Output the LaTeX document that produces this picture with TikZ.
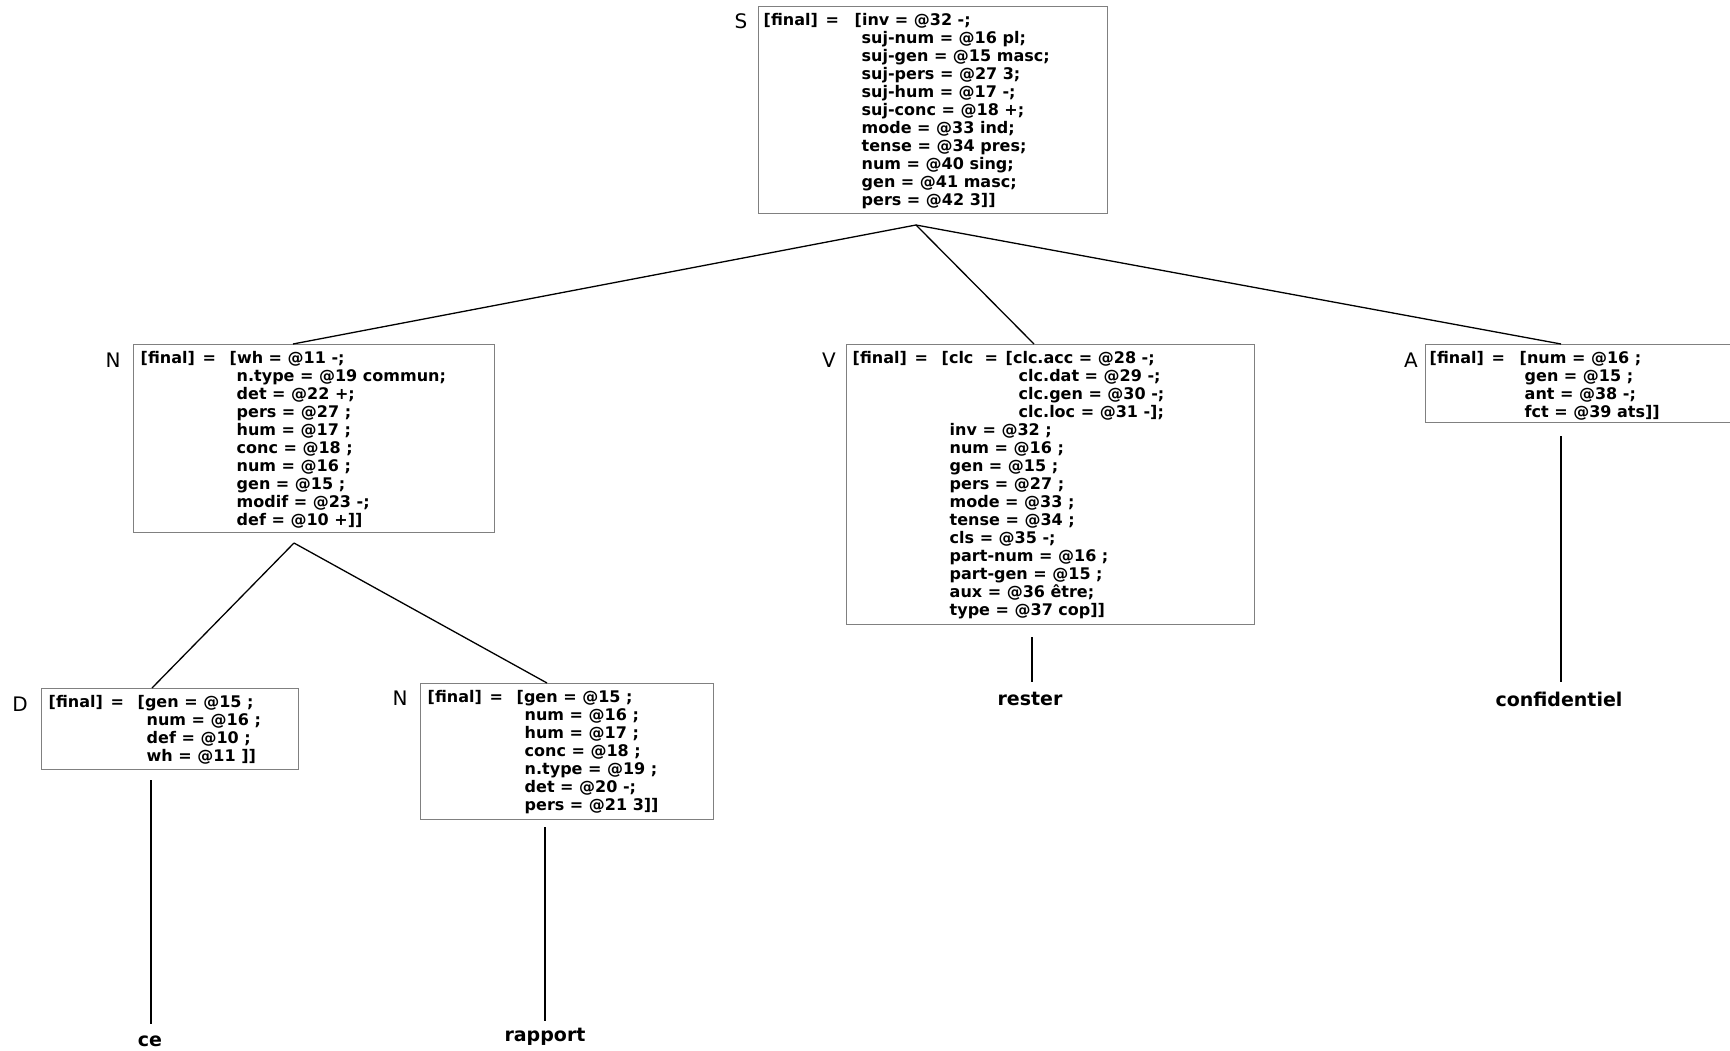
\documentclass[tikz,border=0pt]{standalone}
\usepackage{fontspec}
\setmainfont{DejaVu Sans}
\tikzset{
  fsbox/.style={draw=black!50, line width=0.9pt, inner sep=0pt, anchor=north west},
  fstext/.style={anchor=north west, inner sep=0pt, font=\bfseries\fontsize{16}{18}\selectfont},
  catlab/.style={font=\fontsize{20}{24}\selectfont, inner sep=0pt},
  wordlab/.style={font=\bfseries\fontsize{19}{23}\selectfont, inner sep=0pt},
  branch/.style={line width=1.3pt, black}
}
% place text at a horizontal offset (in pt) from the line start
\newcommand\at[2]{\makebox[0pt][l]{\hspace*{#1pt}#2}}
\newcommand\fin{\at{0}{[final]}\at{62}{=}}
\begin{document}
\begin{tikzpicture}[x=1pt,y=-1pt]
\useasboundingbox (0,0) rectangle (1730,1051);

% ---------- S ----------
\node[fsbox, minimum width=349pt, minimum height=207pt] (Sbox) at (758,6) {};
\node[catlab] (Slab) at (741,21) {S};
\node[fstext] (Stext) at (763,13) {%
\begin{tabular}[t]{@{}l@{}}
\fin\at{91}{[inv = @32 -;}\\
\at{98}{suj-num = @16 pl;}\\
\at{98}{suj-gen = @15 masc;}\\
\at{98}{suj-pers = @27 3;}\\
\at{98}{suj-hum = @17 -;}\\
\at{98}{suj-conc = @18 +;}\\
\at{98}{mode = @33 ind;}\\
\at{98}{tense = @34 pres;}\\
\at{98}{num = @40 sing;}\\
\at{98}{gen = @41 masc;}\\
\at{98}{pers = @42 3]]}
\end{tabular}};

% ---------- N ----------
\node[fsbox, minimum width=361pt, minimum height=188pt] (Nbox) at (133,344) {};
\node[catlab] (Nlab) at (113,360) {N};
\node[fstext] (Ntext) at (140,351) {%
\begin{tabular}[t]{@{}l@{}}
\fin\at{89}{[wh = @11 -;}\\
\at{96}{n.type = @19 commun;}\\
\at{96}{det = @22 +;}\\
\at{96}{pers = @27 ;}\\
\at{96}{hum = @17 ;}\\
\at{96}{conc = @18 ;}\\
\at{96}{num = @16 ;}\\
\at{96}{gen = @15 ;}\\
\at{96}{modif = @23 -;}\\
\at{96}{def = @10 +]]}
\end{tabular}};

% ---------- V ----------
\node[fsbox, minimum width=408pt, minimum height=280pt] (Vbox) at (846,344) {};
\node[catlab] (Vlab) at (829,360) {V};
\node[fstext] (Vtext) at (852,351) {%
\begin{tabular}[t]{@{}l@{}}
\fin\at{89}{[clc}\at{132}{=}\at{153}{[clc.acc = @28 -;}\\
\at{166}{clc.dat = @29 -;}\\
\at{166}{clc.gen = @30 -;}\\
\at{166}{clc.loc = @31 -];}\\
\at{97}{inv = @32 ;}\\
\at{97}{num = @16 ;}\\
\at{97}{gen = @15 ;}\\
\at{97}{pers = @27 ;}\\
\at{97}{mode = @33 ;}\\
\at{97}{tense = @34 ;}\\
\at{97}{cls = @35 -;}\\
\at{97}{part-num = @16 ;}\\
\at{97}{part-gen = @15 ;}\\
\at{97}{aux = @36 être;}\\
\at{97}{type = @37 cop]]}
\end{tabular}};

% ---------- A ----------
\node[fsbox, minimum width=320pt, minimum height=78pt] (Abox) at (1425,344) {};
\node[catlab] (Alab) at (1411,360) {A};
\node[fstext] (Atext) at (1429,351) {%
\begin{tabular}[t]{@{}l@{}}
\fin\at{90}{[num = @16 ;}\\
\at{95}{gen = @15 ;}\\
\at{95}{ant = @38 -;}\\
\at{95}{fct = @39 ats]]}
\end{tabular}};

% ---------- D ----------
\node[fsbox, minimum width=257pt, minimum height=81pt] (Dbox) at (41,688) {};
\node[catlab] (Dlab) at (20,704) {D};
\node[fstext] (Dtext) at (48,695) {%
\begin{tabular}[t]{@{}l@{}}
\fin\at{89}{[gen = @15 ;}\\
\at{98}{num = @16 ;}\\
\at{98}{def = @10 ;}\\
\at{98}{wh = @11 ]]}
\end{tabular}};

% ---------- N (lower) ----------
\node[fsbox, minimum width=293pt, minimum height=136pt] (Mbox) at (420,683) {};
\node[catlab] (Mlab) at (400,698) {N};
\node[fstext] (Mtext) at (427,690) {%
\begin{tabular}[t]{@{}l@{}}
\fin\at{89}{[gen = @15 ;}\\
\at{97}{num = @16 ;}\\
\at{97}{hum = @17 ;}\\
\at{97}{conc = @18 ;}\\
\at{97}{n.type = @19 ;}\\
\at{97}{det = @20 -;}\\
\at{97}{pers = @21 3]]}
\end{tabular}};

% ---------- words ----------
\node[wordlab] (ce) at (150,1041) {ce};
\node[wordlab] (rapport) at (545,1037) {rapport};
\node[wordlab] (rester) at (1030,699) {rester};
\node[wordlab] (confid) at (1559,699) {confidentiel};

% ---------- connector end points ----------
\coordinate (Sfoot) at (916,225);
\coordinate (Nhead) at (293,344);
\coordinate (Vhead) at (1034,344);
\coordinate (Ahead) at (1561,344);
\coordinate (Nfoot) at (294,543);
\coordinate (Dhead) at (152,688);
\coordinate (Mhead) at (547,683);
\coordinate (Dfoot) at (151,780);
\coordinate (Dword) at (151,1024);
\coordinate (Mfoot) at (545,827);
\coordinate (Mword) at (545,1021);
\coordinate (Vfoot) at (1032,637);
\coordinate (Vword) at (1032,682);
\coordinate (Afoot) at (1561,436);
\coordinate (Aword) at (1561,682);

\draw[branch] (Sfoot) -- (Nhead);
\draw[branch] (Sfoot) -- (Vhead);
\draw[branch] (Sfoot) -- (Ahead);
\draw[branch] (Nfoot) -- (Dhead);
\draw[branch] (Nfoot) -- (Mhead);
\draw[branch] (Dfoot) -- (Dword);
\draw[branch] (Mfoot) -- (Mword);
\draw[branch] (Vfoot) -- (Vword);
\draw[branch] (Afoot) -- (Aword);
\end{tikzpicture}
\end{document}
